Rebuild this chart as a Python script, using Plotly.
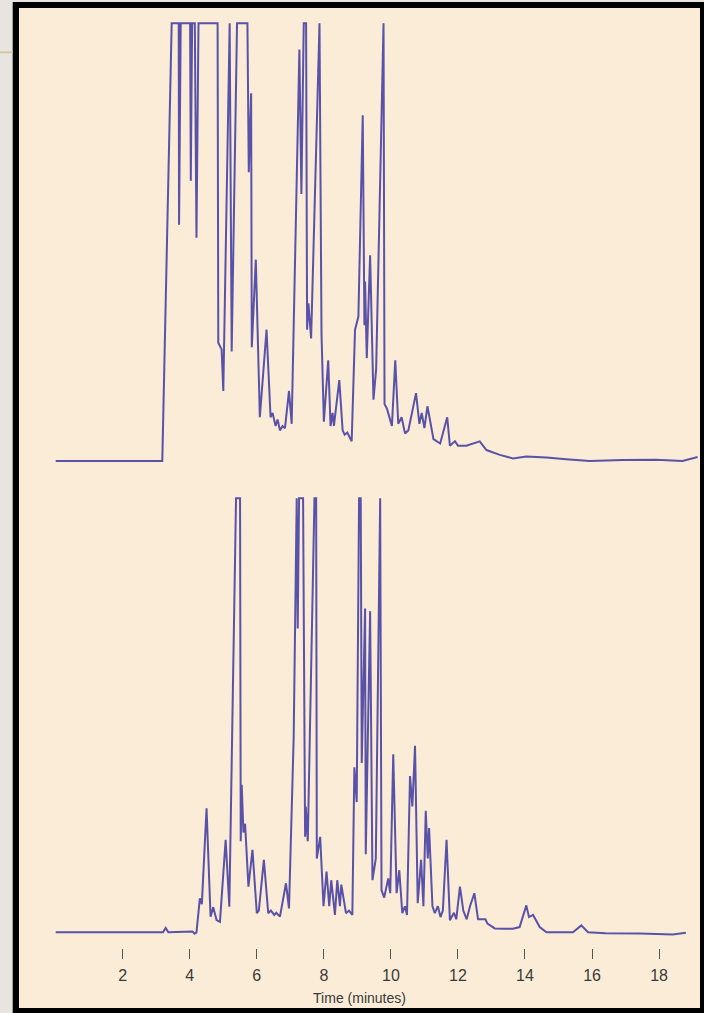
import plotly.graph_objects as go

# ---------------- data ----------------
tick_vals = [2, 4, 6, 8, 10, 12, 14, 16, 18]
tick_text = ["2", "4", "6", "8", "10", "12", "14", "16", "18"]
x_title = "Time (minutes)"

top_time = [0.0, 3.18, 3.46, 3.67, 3.68, 3.73, 4.01, 4.03, 4.07, 4.15, 4.20, 4.26,
            4.83, 4.85, 4.95, 5.00, 5.19, 5.25, 5.41, 5.72, 5.76, 5.83, 5.85, 5.97,
            6.09, 6.29, 6.41, 6.47, 6.56, 6.62, 6.69, 6.77, 6.84, 6.96, 7.04, 7.27,
            7.33, 7.40, 7.47, 7.50, 7.54, 7.62, 7.87, 7.91, 7.93, 8.00, 8.13, 8.20,
            8.26, 8.30, 8.46, 8.56, 8.62, 8.70, 8.83, 8.93, 9.03, 9.16, 9.21, 9.23,
            9.28, 9.38, 9.48, 9.56, 9.78, 9.81, 9.88, 10.03, 10.13, 10.22, 10.32,
            10.42, 10.52, 10.75, 10.85, 10.92, 11.00, 11.09, 11.17, 11.27, 11.47,
            11.68, 11.76, 11.91, 12.00, 12.25, 12.65, 12.85, 13.25, 13.64, 14.04,
            14.64, 15.23, 15.93, 16.92, 17.91, 18.70, 19.15]
top_signal = [0, 0, 100, 100, 54, 100, 100, 64, 100, 100, 51, 100,
              100, 27, 25.5, 16, 100, 25, 100, 100, 66, 84, 26, 46,
              10, 30, 10, 11, 8, 9.5, 7, 8, 7.5, 16, 8.5, 94,
              61, 100, 100, 30, 36, 28, 100, 38, 29, 9, 23, 8,
              11, 8, 18.5, 7, 6, 6.5, 4.5, 30, 33, 79, 31, 41,
              23.5, 47, 14, 21, 100, 13, 12, 8, 23, 8.5, 10,
              6.3, 7, 15.5, 8.5, 11, 7.5, 12.5, 9, 5, 4,
              10, 3.5, 4.5, 3.5, 3.5, 4.5, 2.5, 1.4, 0.6, 1.0,
              0.8, 0.4, 0.0, 0.2, 0.3, 0.0, 0.9]

bottom_time = [0.0, 3.20, 3.28, 3.36, 4.08, 4.14, 4.20, 4.30, 4.36, 4.50, 4.62, 4.70,
               4.80, 4.90, 5.07, 5.18, 5.38, 5.50, 5.52, 5.55, 5.60, 5.65, 5.75, 5.87,
               6.00, 6.06, 6.21, 6.34, 6.42, 6.52, 6.58, 6.69, 6.87, 6.96, 7.10, 7.17,
               7.19, 7.22, 7.26, 7.38, 7.44, 7.46, 7.52, 7.72, 7.77, 7.79, 7.89, 7.99,
               8.08, 8.16, 8.22, 8.33, 8.40, 8.48, 8.52, 8.66, 8.75, 8.85, 8.91, 8.98,
               9.05, 9.10, 9.13, 9.23, 9.25, 9.38, 9.45, 9.55, 9.68, 9.72, 9.80, 9.92,
               9.98, 10.07, 10.17, 10.25, 10.34, 10.42, 10.48, 10.57, 10.64, 10.72,
               10.80, 10.90, 10.97, 11.04, 11.10, 11.14, 11.24, 11.31, 11.40, 11.48,
               11.55, 11.66, 11.76, 11.88, 11.95, 12.06, 12.16, 12.26, 12.36, 12.49,
               12.60, 12.72, 12.82, 12.88, 13.10, 13.40, 13.64, 13.84, 14.04, 14.12,
               14.24, 14.44, 14.64, 15.43, 15.68, 15.88, 16.40, 17.42, 18.41, 18.80]
bottom_signal = [0, 0, 1, 0, 0.2, -0.3, 0, 7.8, 6.5, 28.6, 3.6, 5.8,
                 2.8, 2.4, 21.3, 5.9, 100, 100, 21, 34, 23, 25, 10.5, 19,
                 4.4, 5, 16.7, 4.4, 5, 4, 4.5, 3.6, 11.3, 5.5, 45, 100,
                 100, 70, 100, 100, 22, 29, 21, 100, 100, 17, 22, 6,
                 14, 6, 12, 4, 12, 6, 11, 4.4, 5, 4, 38, 30,
                 100, 100, 39, 74.6, 18, 74, 12, 17, 100, 9.7, 8, 12.4,
                 9, 41, 9, 14.3, 4.4, 6, 4, 36, 29, 43,
                 6.7, 16.7, 6, 28, 17, 24, 6, 4.4, 6, 3.5,
                 5, 21.3, 2.8, 4.5, 3, 10.5, 5, 3, 6, 9,
                 3, 3, 3, 2, 0.9, 0.8, 0.8, 1.2, 6.2, 3.5,
                 4, 1.2, 0, 0, 1.6, 0, -0.2, -0.3, -0.5, -0.1]

# ---------------- styling / layout ----------------
W, H = 704, 1013
LINE = "#5a52a8"
BEIGE = "#faecd7"
GRAY = "#e8e5e1"

def fx(px):
    return px / W

def fy(py):
    return 1 - py / H

X0, XS = 55.7, 33.52           # pixel of t=0, pixels per minute
xr = [(20 - X0) / XS, (699 - X0) / XS]

# top panel: baseline 461 px, clip 23.3 px
tb, tt = 461.0, 23.3
ts = (tb - tt) / 100
top_dom = [fy(470), fy(12)]
top_rng = [-(470 - tb) / ts, 100 + (tt - 12) / ts]

# bottom panel: baseline 932.3 px, clip 498.3 px
bb, bt = 932.3, 498.3
bs = (bb - bt) / 100
bot_dom = [fy(948), fy(485)]
bot_rng = [-(948 - bb) / bs, 100 + (bt - 485) / bs]

fig = go.Figure()
fig.add_trace(go.Scatter(x=top_time, y=top_signal, mode="lines",
                         line=dict(color=LINE, width=2), xaxis="x", yaxis="y",
                         showlegend=False, hoverinfo="skip"))
fig.add_trace(go.Scatter(x=bottom_time, y=bottom_signal, mode="lines",
                         line=dict(color=LINE, width=2), xaxis="x2", yaxis="y2",
                         showlegend=False, hoverinfo="skip"))

font_fam = "Liberation Sans, Arial, sans-serif"

fig.update_layout(
    width=W, height=H,
    margin=dict(l=0, r=0, t=0, b=0, pad=0),
    paper_bgcolor=GRAY,
    plot_bgcolor="rgba(0,0,0,0)",
    xaxis=dict(domain=[fx(20), fx(699)], range=xr, anchor="y", visible=False),
    yaxis=dict(domain=top_dom, range=top_rng, anchor="x", visible=False),
    xaxis2=dict(domain=[fx(20), fx(699)], range=xr, anchor="y2",
                showgrid=False, zeroline=False, showline=False,
                tickmode="array", tickvals=tick_vals, ticktext=tick_text,
                ticks="outside", ticklen=10, tickwidth=1, tickcolor="#555555",
                ticklabelstandoff=3,
                tickfont=dict(family=font_fam, size=16, color="#3a3a3a"),
                title=dict(text=x_title, standoff=9,
                           font=dict(family=font_fam, size=14, color="#3a3a3a")),
                automargin=False),
    yaxis2=dict(domain=bot_dom, range=bot_rng, anchor="x2", visible=False),
    shapes=[
        dict(type="rect", xref="paper", yref="paper", layer="below",
             x0=fx(12.7), x1=fx(704), y0=fy(1013), y1=fy(2),
             fillcolor="#000000", line=dict(width=0)),
        dict(type="rect", xref="paper", yref="paper", layer="below",
             x0=fx(19), x1=fx(700), y0=fy(1008), y1=fy(8),
             fillcolor=BEIGE, line=dict(width=0)),
        dict(type="line", xref="paper", yref="paper", layer="below",
             x0=0, x1=fx(12.7), y0=fy(52.3), y1=fy(52.3),
             line=dict(color="#d6c6a4", width=2)),
    ],
)

fig.write_html(
    "out.html",
    config={"displayModeBar": False},
    post_script="document.body.style.margin='0';document.body.style.padding='0';"
                "document.documentElement.style.overflow='hidden';",
)
